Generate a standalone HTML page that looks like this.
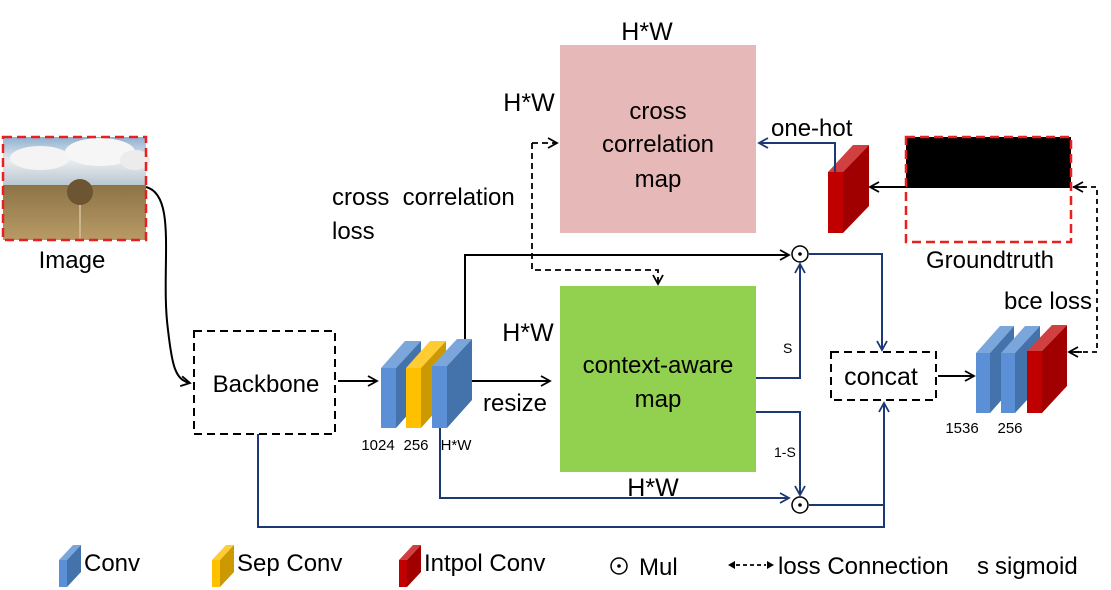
<!DOCTYPE html>
<html><head><meta charset="utf-8"><style>
html,body{margin:0;padding:0;background:#fff;}
svg{display:block;font-family:"Liberation Sans","DejaVu Sans",sans-serif;}
</style></head><body>
<svg width="1111" height="590" viewBox="0 0 1111 590" xmlns="http://www.w3.org/2000/svg">
<defs>
<marker id="ab" markerWidth="12" markerHeight="12" refX="10" refY="6" orient="auto" markerUnits="userSpaceOnUse"><path d="M1,1 L10,6 L1,11" fill="none" stroke="#000" stroke-width="1.8"/></marker>
<marker id="an" markerWidth="12" markerHeight="12" refX="10" refY="6" orient="auto" markerUnits="userSpaceOnUse"><path d="M1,1 L10,6 L1,11" fill="none" stroke="#1c3877" stroke-width="1.8"/></marker>
<linearGradient id="sky" x1="0" y1="0" x2="0" y2="1"><stop offset="0" stop-color="#8fb0d2"/><stop offset="0.5" stop-color="#e8ecef"/><stop offset="1" stop-color="#b9c6d1"/></linearGradient>
<linearGradient id="grass" x1="0" y1="0" x2="0" y2="1"><stop offset="0" stop-color="#8c7447"/><stop offset="1" stop-color="#b89a66"/></linearGradient>
</defs>

<rect x="3" y="137" width="143" height="48" fill="url(#sky)"/>
<ellipse cx="40" cy="158" rx="30" ry="12" fill="#f4f4f4"/>
<ellipse cx="100" cy="152" rx="35" ry="14" fill="#f6f6f6"/>
<ellipse cx="135" cy="160" rx="15" ry="10" fill="#ececec"/>
<rect x="3" y="185" width="143" height="55" fill="url(#grass)"/>
<circle cx="80" cy="192" r="13" fill="#6e5532"/>
<line x1="80" y1="205" x2="80" y2="240" stroke="#c9b48c" stroke-width="2"/>
<rect x="3" y="137" width="143" height="103" fill="none" stroke="#e82020" stroke-width="2.5" stroke-dasharray="9,5"/>
<text x="72" y="268" font-size="24" text-anchor="middle">Image</text>

<path d="M146,187 C178,195 160,270 168,330 C172,365 175,380 190,383" fill="none" stroke="#000" stroke-width="2" marker-end="url(#ab)"/>

<rect x="194" y="331" width="141" height="103" fill="none" stroke="#000" stroke-width="2" stroke-dasharray="8,5"/>
<text x="266" y="392" font-size="24" text-anchor="middle">Backbone</text>
<line x1="338" y1="381" x2="377" y2="381" stroke="#000" stroke-width="2" marker-end="url(#ab)"/>

<g>
<polygon points="381,368 405,341 421,341 396,368" fill="#7aa6dc"/>
<polygon points="396,368 421,341 421,400 396,428" fill="#4472aa"/>
<rect x="381" y="368" width="15" height="60" fill="#5b8fd6"/>
<polygon points="406,368 430,341 446,341 421,368" fill="#ffcc33"/>
<polygon points="421,368 446,341 446,400 421,428" fill="#cc9a00"/>
<rect x="406" y="368" width="15" height="60" fill="#ffc000"/>
<polygon points="432,366 457,339 472,339 447,366" fill="#7aa6dc"/>
<polygon points="447,366 472,339 472,400 447,428" fill="#4472aa"/>
<rect x="432" y="366" width="15" height="62" fill="#5b8fd6"/>
</g>
<text x="378" y="450" font-size="15" text-anchor="middle">1024</text>
<text x="416" y="450" font-size="15" text-anchor="middle">256</text>
<text x="456" y="450" font-size="15" text-anchor="middle">H*W</text>

<line x1="472" y1="381" x2="550" y2="381" stroke="#000" stroke-width="2" marker-end="url(#ab)"/>
<text x="515" y="411" font-size="24" text-anchor="middle">resize</text>

<rect x="560" y="45" width="196" height="188" fill="#e6b8b7"/>
<text x="658" y="119" font-size="24" text-anchor="middle">cross</text>
<text x="658" y="152" font-size="24" text-anchor="middle">correlation</text>
<text x="658" y="187" font-size="24" text-anchor="middle">map</text>
<rect x="560" y="286" width="196" height="186" fill="#92d050"/>
<text x="658" y="373" font-size="24" text-anchor="middle">context-aware</text>
<text x="658" y="407" font-size="24" text-anchor="middle">map</text>

<text x="647" y="40" font-size="25" text-anchor="middle">H*W</text>
<text x="529" y="111" font-size="25" text-anchor="middle">H*W</text>
<text x="528" y="341" font-size="25" text-anchor="middle">H*W</text>
<text x="653" y="496" font-size="25" text-anchor="middle">H*W</text>

<text x="332" y="205" font-size="24" xml:space="preserve">cross  correlation</text>
<text x="332" y="239" font-size="24">loss</text>

<path d="M532,143 L532,270 L658,270 L658,284" fill="none" stroke="#000" stroke-width="1.8" stroke-dasharray="6,4" marker-end="url(#ab)"/>
<line x1="532" y1="143" x2="557" y2="143" stroke="#000" stroke-width="1.8" stroke-dasharray="6,4" marker-end="url(#ab)"/>

<polygon points="828,172 853,145 869,145 843,172" fill="#d04040"/>
<polygon points="843,172 869,145 869,206 843,233" fill="#a00000"/>
<rect x="828" y="172" width="15" height="61" fill="#c00000"/>
<path d="M835,172 L835,143 L759,143" fill="none" stroke="#1c3877" stroke-width="2" marker-end="url(#an)"/>
<text x="771" y="136" font-size="24">one-hot</text>

<rect x="906" y="137" width="165" height="51" fill="#000"/>
<path d="M906,188 L960,188 C968,180 990,178 1000,184 L1071,186 L1071,188" fill="#000"/>
<rect x="906" y="137" width="165" height="105" fill="none" stroke="#e82020" stroke-width="2.5" stroke-dasharray="9,5"/>
<line x1="906" y1="187" x2="870" y2="187" stroke="#000" stroke-width="2" marker-end="url(#ab)"/>
<text x="990" y="268" font-size="24" text-anchor="middle">Groundtruth</text>
<text x="1004" y="309" font-size="24">bce loss</text>
<path d="M1073,187 L1097,187 L1097,352 L1070,352" fill="none" stroke="#000" stroke-width="1.8" stroke-dasharray="5,4"/>
<line x1="1085" y1="187" x2="1074" y2="187" stroke="#000" stroke-width="1.8" marker-end="url(#ab)"/>
<line x1="1082" y1="352" x2="1069" y2="352" stroke="#000" stroke-width="1.8" marker-end="url(#ab)"/>

<polygon points="976,353 1000,326 1014,326 990,353" fill="#7aa6dc"/>
<polygon points="990,353 1014,326 1014,386 990,413" fill="#4472aa"/>
<rect x="976" y="353" width="14" height="60" fill="#5b8fd6"/>
<polygon points="1001,353 1025,326 1040,326 1015,353" fill="#7aa6dc"/>
<polygon points="1015,353 1040,326 1040,386 1015,413" fill="#4472aa"/>
<rect x="1001" y="353" width="14" height="60" fill="#5b8fd6"/>
<polygon points="1027,351 1052,325 1067,325 1042,351" fill="#d04040"/>
<polygon points="1042,351 1067,325 1067,386 1042,413" fill="#a00000"/>
<rect x="1027" y="351" width="15" height="62" fill="#c00000"/>
<text x="962" y="433" font-size="15" text-anchor="middle">1536</text>
<text x="1010" y="433" font-size="15" text-anchor="middle">256</text>

<circle cx="800" cy="254" r="8" fill="#fff" stroke="#000" stroke-width="1.5"/>
<circle cx="800" cy="254" r="1.8" fill="#000"/>
<circle cx="800" cy="505" r="8" fill="#fff" stroke="#000" stroke-width="1.5"/>
<circle cx="800" cy="505" r="1.8" fill="#000"/>

<path d="M465,339 L465,255 L789,255" fill="none" stroke="#000" stroke-width="2" marker-end="url(#ab)"/>
<path d="M756,378 L800,378 L800,264" fill="none" stroke="#1c3877" stroke-width="2" marker-end="url(#an)"/>
<text x="783" y="353" font-size="14">S</text>
<path d="M756,412 L800,412 L800,495" fill="none" stroke="#1c3877" stroke-width="2" marker-end="url(#an)"/>
<text x="774" y="457" font-size="14">1-S</text>
<path d="M440,428 L440,498 L789,498" fill="none" stroke="#1c3877" stroke-width="2" marker-end="url(#an)"/>
<path d="M809,254 L882,254 L882,350" fill="none" stroke="#1c3877" stroke-width="2" marker-end="url(#an)"/>
<path d="M258,434 L258,527 L884,527 L884,403" fill="none" stroke="#1c3877" stroke-width="2" marker-end="url(#an)"/>
<line x1="809" y1="505" x2="884" y2="505" stroke="#1c3877" stroke-width="2"/>

<rect x="831" y="352" width="105" height="48" fill="#fff" stroke="#000" stroke-width="2" stroke-dasharray="8,5"/>
<text x="881" y="385" font-size="25" text-anchor="middle">concat</text>
<line x1="938" y1="376" x2="974" y2="376" stroke="#000" stroke-width="2" marker-end="url(#ab)"/>

<polygon points="59,560 73,545 81,545 67,560" fill="#7aa6dc"/>
<polygon points="67,560 81,545 81,572 67,587" fill="#4472aa"/>
<rect x="59" y="560" width="8" height="27" fill="#5b8fd6"/>
<text x="84" y="571" font-size="24">Conv</text>
<polygon points="212,560 226,545 234,545 220,560" fill="#ffcc33"/>
<polygon points="220,560 234,545 234,572 220,587" fill="#cc9a00"/>
<rect x="212" y="560" width="8" height="27" fill="#ffc000"/>
<text x="237" y="571" font-size="24">Sep Conv</text>
<polygon points="399,560 413,545 421,545 407,560" fill="#d04040"/>
<polygon points="407,560 421,545 421,572 407,587" fill="#a00000"/>
<rect x="399" y="560" width="8" height="27" fill="#c00000"/>
<text x="424" y="571" font-size="24">Intpol Conv</text>
<circle cx="619" cy="566" r="8" fill="#fff" stroke="#000" stroke-width="1.5"/>
<circle cx="619" cy="566" r="1.8" fill="#000"/>
<text x="639" y="575" font-size="24">Mul</text>
<line x1="736" y1="565" x2="766" y2="565" stroke="#000" stroke-width="1.8" stroke-dasharray="4,3"/>
<path d="M735,561 L728,565 L735,569 Z" fill="#000"/>
<path d="M767,561 L774,565 L767,569 Z" fill="#000"/>
<text x="778" y="574" font-size="24">loss Connection</text>
<text x="977" y="574" font-size="24">s</text>
<text x="995" y="574" font-size="24">sigmoid</text>
</svg>
</body></html>
